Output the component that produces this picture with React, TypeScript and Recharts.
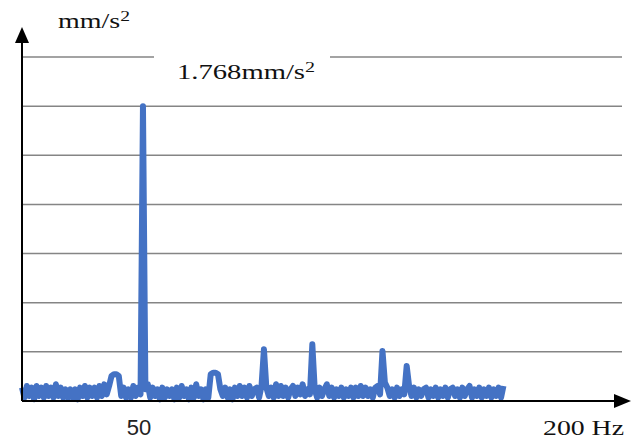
import { LineChart, Line, XAxis, YAxis, ReferenceLine } from 'recharts';

// spectrum amplitude (mm/s²) for 0..199 Hz, 1 Hz steps
const amplitude = [
  0.08, 0.02, 0.09, 0.03, 0.08, 0.01, 0.09, 0.03, 0.08, 0.02,
  0.09, 0.03, 0.08, 0.02, 0.10, 0.03, 0.08, 0.02, 0.07, 0.02,
  0.07, 0.02, 0.07, 0.01, 0.08, 0.03, 0.09, 0.02, 0.08, 0.03,
  0.08, 0.02, 0.09, 0.03, 0.10, 0.04, 0.09, 0.15, 0.16, 0.16,
  0.15, 0.03, 0.08, 0.02, 0.07, 0.02, 0.09, 0.03, 0.08, 0.04,
  1.768, 0.07, 0.10, 0.02, 0.08, 0.03, 0.07, 0.01, 0.08, 0.02,
  0.07, 0.03, 0.07, 0.01, 0.08, 0.02, 0.09, 0.03, 0.07, 0.01,
  0.08, 0.02, 0.10, 0.03, 0.07, 0.01, 0.07, 0.02, 0.16, 0.17,
  0.17, 0.16, 0.07, 0.03, 0.08, 0.02, 0.07, 0.01, 0.08, 0.03,
  0.09, 0.03, 0.08, 0.02, 0.09, 0.03, 0.07, 0.08, 0.02, 0.09,
  0.31, 0.08, 0.03, 0.08, 0.02, 0.10, 0.03, 0.09, 0.03, 0.08,
  0.02, 0.07, 0.09, 0.03, 0.08, 0.04, 0.10, 0.03, 0.07, 0.04,
  0.34, 0.07, 0.02, 0.08, 0.03, 0.07, 0.10, 0.03, 0.08, 0.02,
  0.07, 0.03, 0.08, 0.02, 0.07, 0.03, 0.08, 0.02, 0.08, 0.03,
  0.09, 0.03, 0.08, 0.03, 0.07, 0.02, 0.08, 0.09, 0.04, 0.30,
  0.11, 0.08, 0.03, 0.07, 0.02, 0.08, 0.03, 0.07, 0.04, 0.21,
  0.09, 0.03, 0.08, 0.02, 0.07, 0.03, 0.07, 0.08, 0.02, 0.07,
  0.03, 0.08, 0.02, 0.07, 0.03, 0.08, 0.02, 0.07, 0.08, 0.03,
  0.07, 0.02, 0.08, 0.03, 0.07, 0.09, 0.02, 0.07, 0.03, 0.08,
  0.02, 0.07, 0.03, 0.08, 0.02, 0.07, 0.03, 0.08, 0.02, 0.09,
];

const xTicks = [50];
const gridStep = 1.768 / 6;
const gridLevels = [1, 2, 3, 4, 5, 6, 7].map((k) => k * gridStep);

const data = amplitude.map((v, i) => ({ hz: i, value: v }));

const serif = '"Liberation Serif", "Times New Roman", serif';

const HzTick = ({ x, y, payload }: any) => (
  <text x={x - 4} y={y + 26} textAnchor="middle" fontFamily={'"Liberation Sans", Arial, sans-serif'} fontSize={22} fill="#222">
    {payload.value}
  </text>
);

export default function App() {
  return (
    <div style={{ position: 'absolute', left: 0, top: 0, width: 635, height: 443, background: '#fff' }}>
      <LineChart width={635} height={443} data={data} margin={{ top: 57, right: 13, bottom: 0, left: 0 }}>
        <XAxis
          dataKey="hz"
          type="number"
          domain={[0, 248]}
          ticks={xTicks}
          tickLine={false}
          height={42}
          axisLine={{ stroke: '#000', strokeWidth: 2 }}
          tick={<HzTick />}
        />
        <YAxis
          type="number"
          domain={[0, 7 * gridStep]}
          width={22}
          tick={false}
          tickLine={false}
          axisLine={{ stroke: '#000', strokeWidth: 2 }}
        />
        {gridLevels.map((v) => (
          <ReferenceLine key={v} y={v} stroke="#858585" strokeWidth={1.5} />
        ))}
        <Line
          type="linear"
          dataKey="value"
          stroke="#4472c4"
          strokeWidth={6}
          strokeLinejoin="round"
          dot={false}
          isAnimationActive={false}
        />
      </LineChart>
      <svg width={635} height={443} style={{ position: 'absolute', left: 0, top: 0, pointerEvents: 'none' }}>
        <line x1={22} y1={38} x2={22} y2={58} stroke="#000" strokeWidth={2} />
        <polygon points="22,27 15,43 29,43" fill="#000" />
        <line x1={600} y1={401} x2={616} y2={401} stroke="#000" strokeWidth={2} />
        <polygon points="631,401 614,394 614,408" fill="#000" />
        <rect x={154} y={50} width={176} height={14} fill="#fff" />
        <text x={58} y={28} fontFamily={serif} fontSize={20} fill="#111" textLength={72} lengthAdjust="spacingAndGlyphs">
          mm/s<tspan dy={-7} fontSize={14}>2</tspan>
        </text>
        <text x={177} y={79} fontFamily={serif} fontSize={20} fill="#111" textLength={138} lengthAdjust="spacingAndGlyphs">
          1.768mm/s<tspan dy={-7} fontSize={14}>2</tspan>
        </text>
        <text x={543} y={435} fontFamily={serif} fontSize={21} fill="#111" textLength={81} lengthAdjust="spacingAndGlyphs">
          200 Hz
        </text>
      </svg>
    </div>
  );
}
